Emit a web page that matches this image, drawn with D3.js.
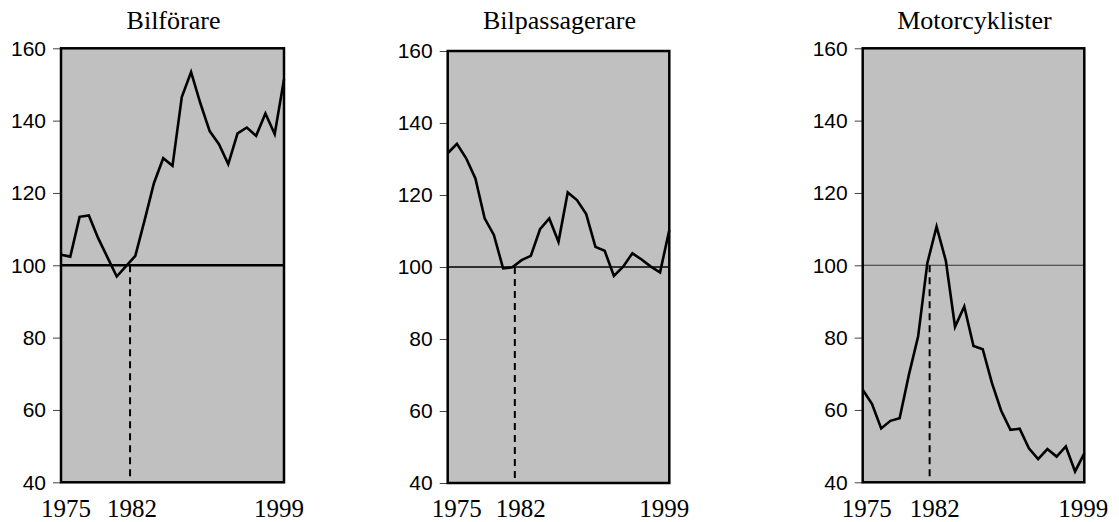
<!DOCTYPE html>
<html>
<head>
<meta charset="utf-8">
<script src="https://cdn.jsdelivr.net/npm/d3@7"></script>
<style>
  html, body { margin: 0; padding: 0; background: #fff; }
  svg { display: block; }
</style>
</head>
<body>
<svg id="chart" width="1119" height="522"></svg>
<script>
// ---- data ----
const years = [1975,1976,1977,1978,1979,1980,1981,1982,1983,1984,1985,1986,1987,
               1988,1989,1990,1991,1992,1993,1994,1995,1996,1997,1998,1999];
const titles = ["Bilförare", "Bilpassagerare", "Motorcyklister"];
const bilforare = [102.9,102.4,113.4,113.8,107.5,102.2,96.9,99.8,102.6,112.5,122.7,129.6,127.5,
                   146.5,153.4,144.8,137.1,133.5,128.0,136.5,138.1,135.8,142.0,136.3,151.4];
const bilpassagerare = [131.6,134.2,130.2,124.6,113.5,108.9,99.6,99.9,101.9,103.1,110.5,113.5,107.0,
                        120.7,118.6,114.7,105.6,104.5,97.5,100.1,103.8,102.1,100.1,98.5,110.3];
const motorcyklister = [65.6,61.7,54.9,57.0,57.7,69.7,80.3,100.6,110.7,101.3,83.0,88.6,77.7,
                        76.8,67.4,59.8,54.5,54.8,49.4,46.4,49.2,47.1,49.9,43.0,48.0];
const yTicks = [40, 60, 80, 100, 120, 140, 160];
const xLabels = [1975, 1982, 1999];
const baseYear = 1982;
const baseValue = 100;

const seriesList = [bilforare, bilpassagerare, motorcyklister];

// ---- layout ----
const geo = [
  { left: 61,    right: 284,    top: 48.3, bottom: 482.3, markDx: 4,   lab: [5, 2, -5], refW: 2.5, refC: "#000" },
  { left: 447.7, right: 669.3,  top: 51,   bottom: 483,   markDx: 2.5, lab: [9, 6, -5], refW: 1.6, refC: "#000" },
  { left: 862.7, right: 1084.3, top: 48.3, bottom: 482.3, markDx: 2.3, lab: [4, 5, -1], refW: 1.1, refC: "#333" }
];

const svg = d3.select("#chart");

seriesList.forEach((vals, i) => {
  const g = geo[i];
  const x = d3.scaleLinear().domain([years[0], years[years.length - 1]]).range([g.left, g.right]);
  const y = d3.scaleLinear().domain([40, 160]).range([g.bottom, g.top]);
  const p = svg.append("g");

  // plot background
  p.append("rect")
    .attr("x", g.left).attr("y", g.top)
    .attr("width", g.right - g.left).attr("height", g.bottom - g.top)
    .attr("fill", "#c0c0c0");

  // y axis (ticks + labels)
  const yAxis = d3.axisLeft(y).tickValues(yTicks).tickSize(8).tickPadding(7).tickFormat(d3.format("d"));
  const ya = p.append("g").attr("transform", `translate(${g.left},0)`).call(yAxis);
  ya.select(".domain").remove();
  ya.selectAll(".tick line").attr("stroke", "#444").attr("stroke-width", 1);
  ya.selectAll(".tick text")
    .attr("font-family", "Arial, 'Liberation Sans', sans-serif")
    .attr("font-size", 21).attr("fill", "#000");

  // reference line at 100
  p.append("line")
    .attr("x1", g.left).attr("x2", g.right)
    .attr("y1", y(baseValue)).attr("y2", y(baseValue))
    .attr("stroke", g.refC).attr("stroke-width", g.refW);

  // dashed marker at base year
  const mx = x(baseYear) + g.markDx;
  p.append("line")
    .attr("x1", mx).attr("x2", mx)
    .attr("y1", y(baseValue)).attr("y2", g.bottom)
    .attr("stroke", "#000").attr("stroke-width", 2)
    .attr("stroke-dasharray", "7,5");

  // data line
  const line = d3.line().x((d, j) => x(years[j])).y(d => y(d));
  p.append("path")
    .datum(vals)
    .attr("d", line)
    .attr("fill", "none")
    .attr("stroke", "#000")
    .attr("stroke-width", 2.6)
    .attr("stroke-linejoin", "miter");

  // frame
  p.append("rect")
    .attr("x", g.left).attr("y", g.top)
    .attr("width", g.right - g.left).attr("height", g.bottom - g.top)
    .attr("fill", "none").attr("stroke", "#000").attr("stroke-width", 2.5);

  // title
  p.append("text")
    .attr("x", (g.left + g.right) / 2 + 1).attr("y", 29)
    .attr("text-anchor", "middle")
    .attr("font-family", "'Times New Roman', 'Liberation Serif', serif")
    .attr("font-size", 26)
    .text(titles[i]);

  // x labels
  xLabels.forEach((yr, k) => {
    const base = yr === baseYear ? mx : x(yr);
    p.append("text")
      .attr("x", base + g.lab[k]).attr("y", 517)
      .attr("text-anchor", "middle")
      .attr("font-family", "'Times New Roman', 'Liberation Serif', serif")
      .attr("font-size", 25)
      .text(yr);
  });
});
</script>
</body>
</html>
